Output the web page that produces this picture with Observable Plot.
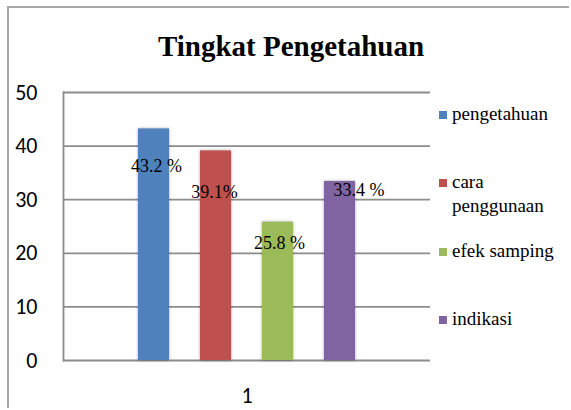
<!DOCTYPE html>
<html>
<head>
<meta charset="utf-8">
<script src="https://cdn.jsdelivr.net/npm/d3@7"></script>
<script src="https://cdn.jsdelivr.net/npm/@observablehq/plot@0.6"></script>
<style>
  html, body { margin: 0; padding: 0; background: #fff; }
  #wrap { position: relative; width: 571px; height: 410px; background: #fff; }
  #border { position: absolute; left: 7px; top: 6px; width: 560px; height: 400px;
            border-left: 2px solid #a6a6a6; border-top: 2px solid #a6a6a6; }
  #chart { position: absolute; left: 0; top: 0; }
  .bar-shadow rect { filter: drop-shadow(0px 0px 1.5px rgba(0,0,0,0.35)); }
  .serif { font-family: 'Liberation Serif', Tinos, 'Times New Roman', serif; }
</style>
</head>
<body>
<div id="wrap">
  <div id="border"></div>
  <div id="chart"></div>
  <div id="title" class="serif" style="position:absolute;left:291px;top:32px;transform:translateX(-50%);font-weight:bold;font-size:29px;line-height:29px;white-space:nowrap;color:#000"></div>
</div>
<script>
const chartTitle = "Tingkat Pengetahuan";
const categoryLabels = ["1"];
const seriesNames = ["pengetahuan", "cara penggunaan", "efek samping", "indikasi"];
const seriesValues = [43.2, 39.1, 25.8, 33.4];
const valueLabels = ["43.2 %", "39.1%", "25.8 %", "33.4 %"];
const yTicks = [0, 10, 20, 30, 40, 50];
const seriesColors = ["#4f81bd", "#c0504d", "#9bbb59", "#8064a2"];

// label placement offsets (style, not data)
const labelOffsets = [[2.5, 37], [-1.5, 41], [1.5, 21], [19, 9]];

const data = seriesNames.map((s, i) => ({series: s, value: seriesValues[i], label: valueLabels[i]}));

document.getElementById("title").textContent = chartTitle;

const labelMarks = data.map((d, i) =>
  Plot.text([d], {
    x: "series", y: "value", text: "label",
    dx: labelOffsets[i][0], dy: labelOffsets[i][1],
    fontSize: 18, fill: "#000", lineAnchor: "middle", textAnchor: "middle",
    fontFamily: "Liberation Serif"
  })
);

const plot = Plot.plot({
  width: 571,
  height: 410,
  marginLeft: 63,
  marginRight: 141,
  marginTop: 92,
  marginBottom: 50,
  style: {background: "transparent"},
  x: {domain: seriesNames, paddingInner: 0.503, paddingOuter: 1.203, axis: null},
  y: {domain: [0, 50], ticks: yTicks, axis: null},
  color: {domain: seriesNames, range: seriesColors},
  marks: [
    Plot.ruleY(yTicks, {stroke: "#8c8c8c", strokeWidth: 1.8}),
    Plot.frame({anchor: "left", stroke: "#8c8c8c", strokeWidth: 1.8}),
    Plot.barY(data, {x: "series", y: "value", fill: "series", className: "bar-shadow"}),
    Plot.axisY({ticks: yTicks, tickSize: 0, tickPadding: 26, fontSize: 22,
                fill: "#000", label: null, fontFamily: "Carlito"}),
    Plot.text(categoryLabels, {text: d => d, frameAnchor: "bottom", dy: 35, fontSize: 22,
                fill: "#000", lineAnchor: "middle", fontFamily: "Carlito"}),
    ...labelMarks
  ]
});
document.getElementById("chart").appendChild(plot);

// legend
const wrap = document.getElementById("wrap");
seriesNames.forEach((name, i) => {
  const item = document.createElement("div");
  item.className = "serif";
  item.style.cssText = "position:absolute;left:439px;width:130px;font-size:19px;line-height:24px;color:#000";
  item.style.top = (114.5 + i * 68.5 - 13) + "px";
  const sw = document.createElement("div");
  sw.style.cssText = "position:absolute;left:0;top:9px;width:8px;height:8px";
  sw.style.background = seriesColors[i];
  const tx = document.createElement("div");
  tx.style.cssText = "position:absolute;left:13px;top:0;width:118px";
  tx.textContent = name;
  item.appendChild(sw);
  item.appendChild(tx);
  wrap.appendChild(item);
});
</script>
</body>
</html>
